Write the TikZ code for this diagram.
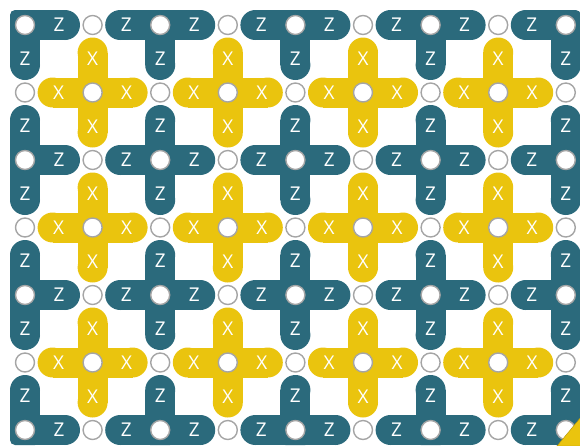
\documentclass[tikz,border=0pt]{standalone}
\usepackage{fontspec}
\setmainfont{Open Sans}
\definecolor{zteal}{RGB}{43,106,124}
\definecolor{xyellow}{RGB}{234,196,14}
\definecolor{qring}{RGB}{165,165,165}
\usetikzlibrary{calc}

%% one arm of a stabilizer: colour, centre, dx, dy, label, name
\newcommand{\stabarm}[6]{%
  \draw[line width=30pt, #1] (#2) -- ++(40*#3,40*#4);
  \fill[#1] (#2) ++(40*#3,40*#4) circle (15);
  \node[lbl] (#6) at ($(#2)+(34*#3,34*#4)$) {#5};
}

\begin{document}
\begin{tikzpicture}[
    x=1pt, y=-1pt,
    lbl/.style={text=white, inner sep=0pt, font=\fontsize{19}{19}\selectfont},
    core/.style={fill=#1, rounded corners=5pt},
    qubit/.style={circle, draw=qring, line width=1.4pt, fill=white,
      minimum size=19pt, inner sep=0pt},
  ]
  \clip (0,0) rectangle (580,445);

  %% --- grid points ---
  \foreach \i in {0,...,8}
    \foreach \j in {0,...,6}
      \coordinate (g-\i-\j) at ({25+67.6*\i},{25+67.5*\j});

  %% --- Z stabilizers (boundary ones lose their outer arms) ---
  \foreach \i in {0,2,...,8}
    \foreach \j in {0,2,...,6} {
      \fill[core=zteal] (g-\i-\j) ++(-15,-15) rectangle ++(30,30);
      \ifnum\i<8 \stabarm{zteal}{g-\i-\j}{1}{0}{Z}{z-\i-\j-r}\fi
      \ifnum\i>0 \stabarm{zteal}{g-\i-\j}{-1}{0}{Z}{z-\i-\j-l}\fi
      \ifnum\j<6 \stabarm{zteal}{g-\i-\j}{0}{1}{Z}{z-\i-\j-d}\fi
      \ifnum\j>0 \stabarm{zteal}{g-\i-\j}{0}{-1}{Z}{z-\i-\j-u}\fi
    }

  %% --- X stabilizers ---
  \foreach \i in {1,3,...,7}
    \foreach \j in {1,3,5} {
      \fill[core=xyellow] (g-\i-\j) ++(-15,-15) rectangle ++(30,30);
      \stabarm{xyellow}{g-\i-\j}{1}{0}{X}{x-\i-\j-r}
      \stabarm{xyellow}{g-\i-\j}{-1}{0}{X}{x-\i-\j-l}
      \stabarm{xyellow}{g-\i-\j}{0}{1}{X}{x-\i-\j-d}
      \stabarm{xyellow}{g-\i-\j}{0}{-1}{X}{x-\i-\j-u}
    }

  %% --- qubits ---
  \foreach \i in {0,...,8}
    \foreach \j in {0,...,6}
      \node[qubit] (q-\i-\j) at (g-\i-\j) {};

  %% corner fragment
  \fill[xyellow, draw=xyellow!75!black, line width=0.4pt]
    (581,417) -- (581,446) -- (557,446) -- cycle;
\end{tikzpicture}
\end{document}
